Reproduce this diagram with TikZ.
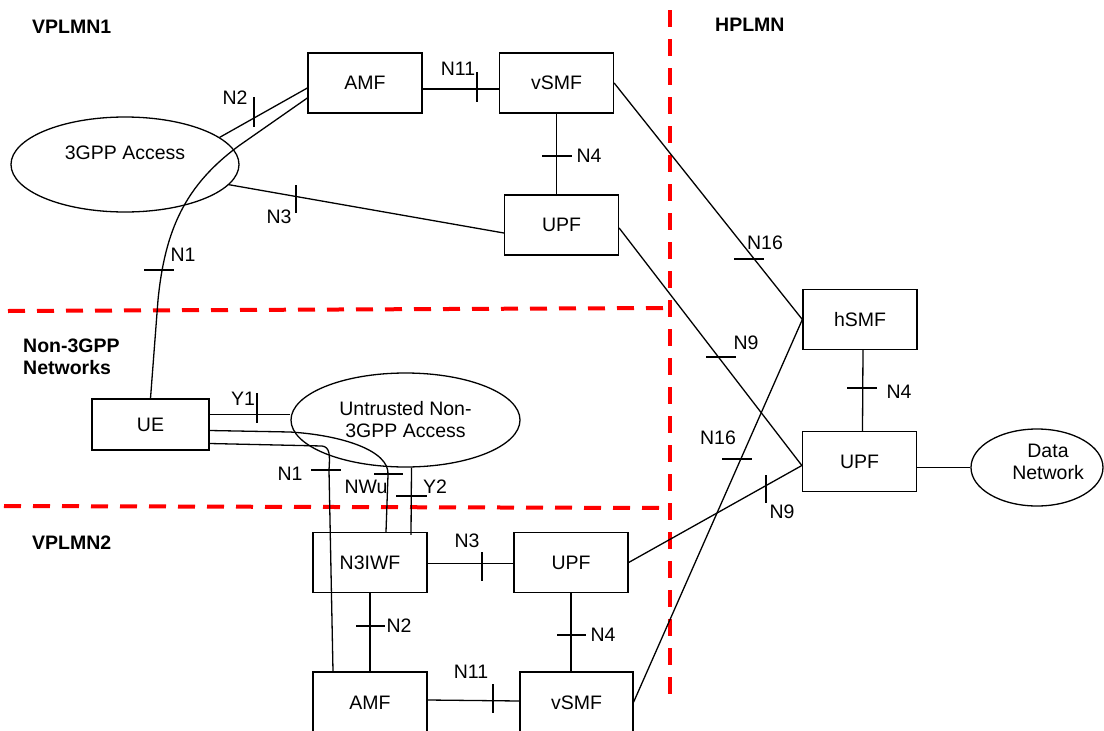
\documentclass[tikz,border=0pt]{standalone}
\usepackage{fontspec}
\setmainfont{Liberation Sans}
\usetikzlibrary{shapes.geometric,calc}
\begin{document}
\begin{tikzpicture}[x=1pt,y=-1pt,
  every node/.style={font=\fontsize{19.5}{22}\selectfont},
  box/.style={draw, line width=1.3pt, minimum width=114pt, minimum height=60pt, inner sep=0pt},
  ell/.style={draw, ellipse, line width=1.3pt, inner sep=0pt},
  conn/.style={line width=1.3pt},
  tick/.style={line width=1.3pt},
  lbl/.style={inner sep=0pt},
  region/.style={font=\fontsize{19.5}{22}\selectfont\bfseries, inner sep=0pt, anchor=west, align=left},
  border/.style={draw=red, line width=4pt, dash pattern=on 17pt off 12pt}]
\useasboundingbox (0,0) rectangle (1104,731);

% region borders
\coordinate (b1s) at (670,10);  \coordinate (b1e) at (670,700);
\coordinate (b2s) at (8,311);   \coordinate (b2e) at (668,308);
\coordinate (b3s) at (4,506);   \coordinate (b3e) at (668,508);
\draw[border] (b1s) -- (b1e);
\draw[border] (b2s) -- (b2e);
\draw[border] (b3s) -- (b3e);

% region labels
\node[region] (lv1) at (32,27) {VPLMN1};
\node[region] (lh) at (715,25) {HPLMN};
\node[region] (ln3) at (23,357) {Non-3GPP\\Networks};
\node[region] (lv2) at (32,543) {VPLMN2};

% nodes
\node[box] (amf1) at (365,83) {AMF};
\node[box] (vsmf1) at (556.5,83) {vSMF};
\node[box] (upf1) at (561.5,225) {UPF};
\node[ell, minimum width=228pt, minimum height=95pt, label={[yshift=12pt]center:3GPP Access}] (acc3) at (125,164.5) {};
\node[box] (hsmf) at (860,319.5) {hSMF};
\node[box] (upfh) at (859.5,461.5) {UPF};
\node[ell, minimum width=132pt, minimum height=77pt, label={[xshift=11pt,yshift=6pt,align=center]center:Data\\Network}] (dn) at (1037,467.5) {};
\node[box, minimum width=117pt, minimum height=51pt] (ue) at (150.5,424.5) {UE};
\node[ell, minimum width=229pt, minimum height=94pt, align=center] (unt) at (405.5,420) {Untrusted Non-\\3GPP Access};
\node[box] (n3iwf) at (370,562.5) {N3IWF};
\node[box] (upf2) at (571,562.5) {UPF};
\node[box, minimum height=62pt] (amf2) at (370,703) {AMF};
\node[box, minimum width=113pt, minimum height=62pt] (vsmf2) at (576.5,703) {vSMF};

% connectors, VPLMN1
\draw[conn] ([yshift=-6pt]amf1.east) -- ([yshift=-6pt]vsmf1.west);
\draw[conn] (vsmf1.south) -- (vsmf1.south |- upf1.north);
\draw[conn] (acc3.16) -- ([yshift=-5pt]amf1.west);
\draw[conn] (ue.north) -- (158,300) .. controls (165,230) and (185,185) .. (240,145) -- ([yshift=-15pt]amf1.west);
\draw[conn] (acc3.-11) -- ([yshift=-8pt]upf1.west);
\draw[conn] (vsmf1.east) -- (hsmf.west);
\draw[conn] ([yshift=-3pt]upf1.east) -- ([yshift=-4pt]upfh.west);
\draw[conn] ([xshift=3pt]hsmf.south) -- ([xshift=3pt]upfh.north);
\draw[conn] (upfh.east |- dn.west) -- (dn.west);

% connectors, non-3GPP / VPLMN2
\coordinate (y1s) at ([yshift=10pt]ue.east);
\draw[conn] (y1s) -- (unt.west |- y1s);
\draw[conn] ([yshift=-19pt]ue.east) -- (322,446) .. controls (330,447) and (330,455) .. (329,470) -- ([xshift=-37pt]amf2.north);
\draw[conn] ([yshift=-6pt]ue.east) -- (290,432) .. controls (340,435) and (390,450) .. (388,475) -- ([xshift=16pt]n3iwf.north);
\draw[conn] ([xshift=6pt]unt.south) -- ([xshift=41pt,yshift=-3pt]n3iwf.north);
\draw[conn] ([yshift=-1pt]n3iwf.east) -- ([yshift=-1pt]upf2.west);
\draw[conn] (n3iwf.south) -- (amf2.north);
\draw[conn] (upf2.south) -- (upf2.south |- vsmf2.north);
\draw[conn] ([yshift=3pt]amf2.east) -- ([yshift=2pt]vsmf2.west);
\draw[conn] ([yshift=1pt]vsmf2.east) -- (hsmf.west);
\draw[conn] (upf2.east) -- ([yshift=-4pt]upfh.west);

% ticks
\draw[tick] (254,97) -- (254,127);
\draw[tick] (144,270) -- (174,270);
\draw[tick] (296,185) -- (296,213);
\draw[tick] (477,72) -- (477,102);
\draw[tick] (542,156) -- (572,156);
\draw[tick] (734,259) -- (764,259);
\draw[tick] (706,357) -- (736,357);
\draw[tick] (847,388) -- (877,388);
\draw[tick] (722,459) -- (752,459);
\draw[tick] (766,475) -- (766,503);
\draw[tick] (257,393) -- (257,423);
\draw[tick] (311,470) -- (341,470);
\draw[tick] (374,474) -- (403,474);
\draw[tick] (396,496) -- (427,496);
\draw[tick] (482,552) -- (482,581);
\draw[tick] (356,626) -- (385,626);
\draw[tick] (557,635) -- (586,635);
\draw[tick] (493,684) -- (493,713);

% interface labels
\node[lbl] (ln2a) at (235,98) {N2};
\node[lbl] (ln1a) at (183,255) {N1};
\node[lbl] (ln3a) at (279,217) {N3};
\node[lbl] (ln11a) at (458,69) {N11};
\node[lbl] (ln4a) at (589,156) {N4};
\node[lbl] (ln16a) at (765,243) {N16};
\node[lbl] (ln9a) at (746,343) {N9};
\node[lbl] (ln4h) at (899,392) {N4};
\node[lbl] (ln16b) at (718,438) {N16};
\node[lbl] (ln9b) at (782,512) {N9};
\node[lbl] (ly1) at (243,399) {Y1};
\node[lbl] (ln1b) at (290,474) {N1};
\node[lbl] (lnwu) at (366,487) {NWu};
\node[lbl] (ly2) at (435,487) {Y2};
\node[lbl] (ln3b) at (467,541) {N3};
\node[lbl] (ln2b) at (399,626) {N2};
\node[lbl] (ln4b) at (603,635) {N4};
\node[lbl] (ln11b) at (471,672) {N11};
\end{tikzpicture}
\end{document}
